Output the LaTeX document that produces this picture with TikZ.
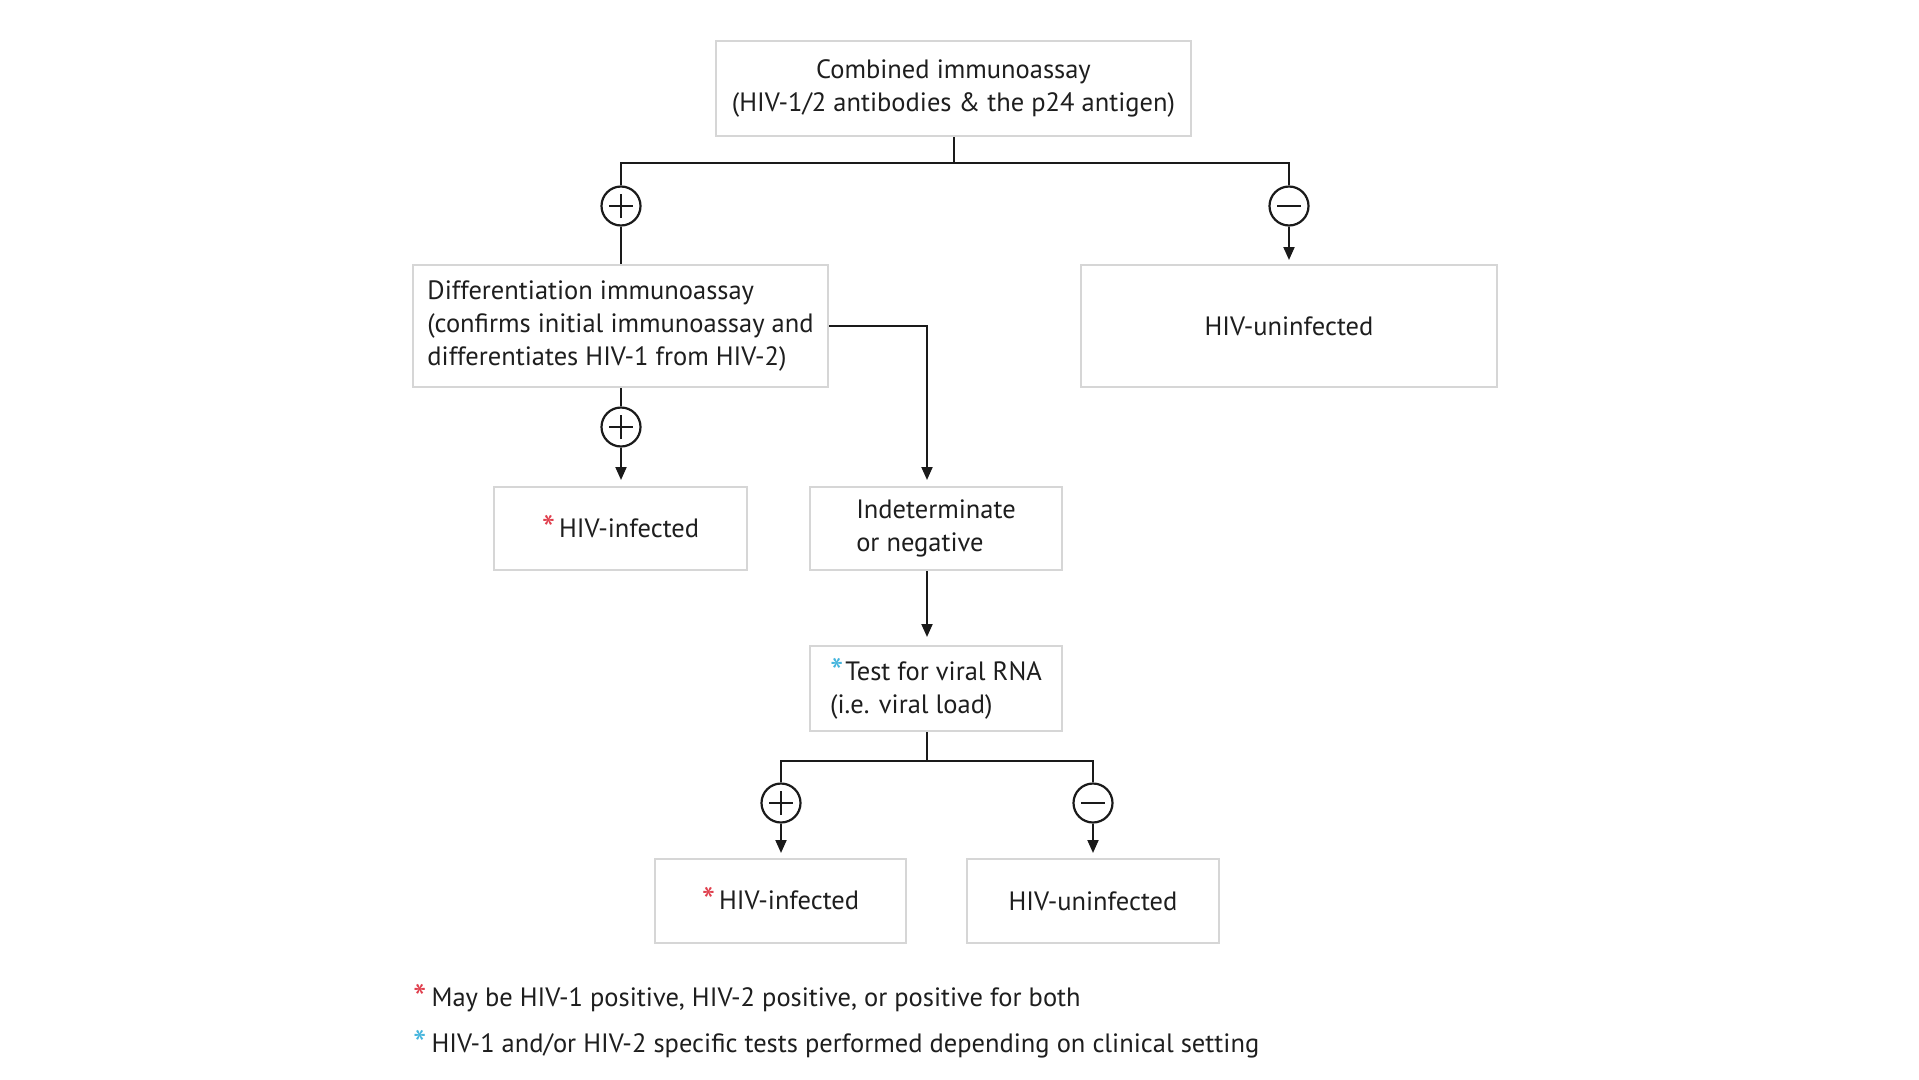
\documentclass[tikz,border=0pt]{standalone}
\usepackage{fontspec}
\setmainfont{PT Sans}
\usetikzlibrary{arrows.meta}
\definecolor{boxgray}{HTML}{D6D6D6}
\definecolor{txt}{HTML}{1E1E1E}
\definecolor{lin}{HTML}{1A1A1A}
\definecolor{astred}{HTML}{E0404E}
\definecolor{astblue}{HTML}{45B5DD}
\newcommand{\bigast}[1]{\raisebox{-5pt}{\fontsize{38}{38}\selectfont\textcolor{#1}{*}}}
\newcommand{\redast}{\bigast{astred}}
\newcommand{\blueast}{\bigast{astblue}}
\begin{document}
\begin{tikzpicture}[x=1pt,y=-1pt,
  font=\fontsize{26.5}{33}\selectfont, text=txt,
  box/.style={draw=boxgray, line width=2pt, inner sep=0pt, align=left},
  conn/.style={draw=lin, line width=2pt},
  arr/.style={conn, -{Triangle[length=13pt,width=11pt]}, shorten >=5pt},
  sign/.style={circle, draw=lin, line width=2.2pt, minimum size=39pt, inner sep=0pt},
  plussign/.style={sign, path picture={
     \draw[lin, line width=2pt] ([xshift=-12pt]path picture bounding box.center) -- ([xshift=12pt]path picture bounding box.center);
     \draw[lin, line width=2pt] ([yshift=-12pt]path picture bounding box.center) -- ([yshift=12pt]path picture bounding box.center);}},
  minussign/.style={sign, path picture={
     \draw[lin, line width=2pt] ([xshift=-12pt]path picture bounding box.center) -- ([xshift=12pt]path picture bounding box.center);}},
  note/.style={anchor=base west, inner sep=0pt}
]
\fill[white] (0,0) rectangle (1919,1079);
\useasboundingbox (0,0) rectangle (1919,1079);

% boxes
\node[box, align=center, minimum width=475pt, minimum height=95pt] (top) at (953.5,88.5)
  {Combined immunoassay\\(HIV-1/2 antibodies \& the p24 antigen)};
\node[box, minimum width=415pt, minimum height=122pt] (diff) at (620.5,326)
  {Differentiation immunoassay\\(confirms initial immunoassay and\\differentiates HIV-1 from HIV-2)};
\node[box, minimum width=416pt, minimum height=122pt] (unin1) at (1289,326) {HIV-uninfected};
\node[box, minimum width=253pt, minimum height=83pt] (inf1) at (620.5,528.5) {\redast\hspace{4pt}HIV-infected};
\node[box, minimum width=252pt, minimum height=83pt] (ind) at (936,528.5) {Indeterminate\\or negative};
\node[box, minimum width=252pt, minimum height=85pt] (test) at (936,688.5) {\blueast\hspace{2pt}Test for viral RNA\\(i.e. viral load)};
\node[box, minimum width=251pt, minimum height=84pt] (inf2) at (780.5,901) {\redast\hspace{4pt}HIV-infected};
\node[box, minimum width=252pt, minimum height=84pt] (unin2) at (1093,901) {HIV-uninfected};

% signs
\node[plussign] (p1) at (621,206) {};
\node[minussign] (m1) at (1289,206) {};
\node[plussign] (p2) at (621,427) {};
\node[plussign] (p3) at (781,803) {};
\node[minussign] (m3) at (1093,803) {};

% branch points
\coordinate (b1) at (954,163);
\coordinate (b2) at (927,761);
\coordinate (c1) at (927,487);

% connectors
\draw[conn] (top.south -| b1) -- (b1);
\draw[conn] (p1.north) |- (b1) -| (m1.north);
\draw[conn] (p1.south) -- (p1.south |- diff.north);
\draw[arr, shorten >=4pt] (m1.south) -- (m1.south |- unin1.north);
\draw[conn] (diff.south -| p2) -- (p2.north);
\draw[arr, shorten >=6pt] (p2.south) -- (p2.south |- inf1.north);
\draw[arr, shorten >=7pt] (diff.east) -| (c1);
\draw[arr, shorten >=8pt] (ind.south -| c1) -- (test.north -| c1);
\draw[conn] (test.south -| b2) -- (b2);
\draw[conn] (p3.north) |- (b2) -| (m3.north);
\draw[arr] (p3.south) -- (p3.south |- inf2.north);
\draw[arr] (m3.south) -- (m3.south |- unin2.north);

% footnotes
\node[note] (n1) at (413,1006) {\redast\hspace{5pt}May be HIV-1 positive, HIV-2 positive, or positive for both};
\node[note] (n2) at (413,1052) {\blueast\hspace{5pt}HIV-1 and/or HIV-2 specific tests performed depending on clinical setting};
\end{tikzpicture}
\end{document}
